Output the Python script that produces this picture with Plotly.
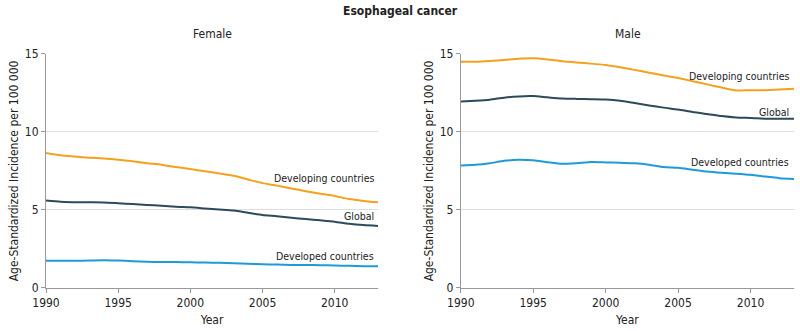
import plotly.graph_objects as go

years = list(range(1990, 2014))

female_developing = [8.65, 8.5, 8.42, 8.35, 8.3, 8.22, 8.12, 8.0, 7.9, 7.75, 7.62, 7.48, 7.34, 7.19, 6.95, 6.72, 6.56, 6.38, 6.2, 6.04, 5.9, 5.7, 5.58, 5.49]
female_global = [5.6, 5.52, 5.5, 5.49, 5.48, 5.43, 5.38, 5.32, 5.27, 5.21, 5.17, 5.1, 5.03, 4.96, 4.82, 4.68, 4.6, 4.5, 4.42, 4.34, 4.25, 4.12, 4.03, 3.97]
female_developed = [1.74, 1.74, 1.74, 1.76, 1.78, 1.76, 1.72, 1.68, 1.66, 1.66, 1.65, 1.63, 1.61, 1.58, 1.55, 1.52, 1.5, 1.48, 1.47, 1.46, 1.44, 1.42, 1.4, 1.39]

male_developing = [14.5, 14.5, 14.55, 14.62, 14.7, 14.73, 14.65, 14.53, 14.45, 14.38, 14.29, 14.15, 13.98, 13.8, 13.62, 13.46, 13.25, 13.05, 12.85, 12.66, 12.68, 12.68, 12.72, 12.77]
male_global = [11.95, 12.0, 12.07, 12.2, 12.28, 12.3, 12.22, 12.15, 12.12, 12.1, 12.08, 12.0, 11.85, 11.7, 11.56, 11.44, 11.28, 11.15, 11.02, 10.93, 10.9, 10.85, 10.84, 10.85]
male_developed = [7.85, 7.9, 8.0, 8.15, 8.22, 8.18, 8.06, 7.96, 8.0, 8.07, 8.05, 8.02, 7.99, 7.9, 7.75, 7.7, 7.58, 7.46, 7.38, 7.32, 7.25, 7.14, 7.04, 6.98]

series_names = ["Developing countries", "Global", "Developed countries"]
colors = ["#F4A11D", "#2D4A5A", "#1E9AD8"]

FONT = "Liberation Sans Narrow, DejaVu Sans Condensed, Arial Narrow, sans-serif"
TXT = "#222222"
GRID = "#DDDDDD"
AXIS = "#999999"

fig = go.Figure()
panels = [
    ("x", "y", [female_developing, female_global, female_developed]),
    ("x2", "y2", [male_developing, male_global, male_developed]),
]
for xa, ya, data in panels:
    for vals, name, col in zip(data, series_names, colors):
        fig.add_trace(go.Scatter(x=years, y=vals, mode="lines", name=name,
                                 line=dict(color=col, width=2, shape="spline", smoothing=0.6),
                                 xaxis=xa, yaxis=ya, showlegend=False, hoverinfo="skip"))

axis_common = dict(showline=True, linecolor=AXIS, linewidth=1, ticks="outside",
                   ticklen=4, tickcolor=AXIS, tickfont=dict(family=FONT, size=12, color=TXT),
                   zeroline=False, automargin=False)
xcommon = dict(axis_common, range=[1990, 2013], tickvals=[1990, 1995, 2000, 2005, 2010],
               showgrid=False,
               title=dict(text="Year", font=dict(family=FONT, size=12, color=TXT), standoff=6))
ycommon = dict(axis_common, range=[0, 15], tickvals=[0, 5, 10, 15], showgrid=True,
               gridcolor=GRID, gridwidth=1,
               title=dict(text="Age-Standardized Incidence per 100 000",
                          font=dict(family=FONT, size=12, color=TXT), standoff=3))

fig.update_layout(
    width=800, height=331,
    margin=dict(l=0, r=0, t=0, b=0),
    paper_bgcolor="white", plot_bgcolor="white",
    font=dict(family=FONT, size=12, color=TXT),
    xaxis=dict(xcommon, domain=[0.0575, 0.4725], anchor="y"),
    yaxis=dict(ycommon, domain=[0.13, 0.837], anchor="x"),
    xaxis2=dict(xcommon, domain=[0.576, 0.9925], anchor="y2"),
    yaxis2=dict(ycommon, domain=[0.13, 0.837], anchor="x2"),
)

LBL = dict(family=FONT, size=10.5, color=TXT)
ann = [
    dict(text="Esophageal cancer", xref="paper", yref="paper", x=0.5, y=1 - 11 / 331,
         showarrow=False, xanchor="center", yanchor="middle",
         font=dict(family=FONT, size=12, color=TXT, weight=600)),
    dict(text="Female", xref="paper", yref="paper", x=0.265, y=1 - 34 / 331,
         showarrow=False, xanchor="center", yanchor="middle",
         font=dict(family=FONT, size=12, color=TXT)),
    dict(text="Male", xref="paper", yref="paper", x=0.785, y=1 - 34 / 331,
         showarrow=False, xanchor="center", yanchor="middle",
         font=dict(family=FONT, size=12, color=TXT)),
    # labels on left panel
    dict(text="Developing countries", xref="x", yref="y", x=2012.86, y=7.06, showarrow=False,
         xanchor="right", yanchor="middle", font=LBL),
    dict(text="Global", xref="x", yref="y", x=2012.86, y=4.59, showarrow=False,
         xanchor="right", yanchor="middle", font=LBL),
    dict(text="Developed countries", xref="x", yref="y", x=2012.86, y=2.04, showarrow=False,
         xanchor="right", yanchor="middle", font=LBL),
    # labels on right panel
    dict(text="Developing countries", xref="x2", yref="y2", x=2012.79, y=13.58, showarrow=False,
         xanchor="right", yanchor="middle", font=LBL),
    dict(text="Global", xref="x2", yref="y2", x=2012.79, y=11.29, showarrow=False,
         xanchor="right", yanchor="middle", font=LBL),
    dict(text="Developed countries", xref="x2", yref="y2", x=2012.79, y=8.07, showarrow=False,
         xanchor="right", yanchor="middle", font=LBL),
]
fig.update_layout(annotations=ann)

fig.write_html("out.html", config={"displayModeBar": False},
               post_script="document.body.style.margin='0';document.body.style.overflow='hidden';")
